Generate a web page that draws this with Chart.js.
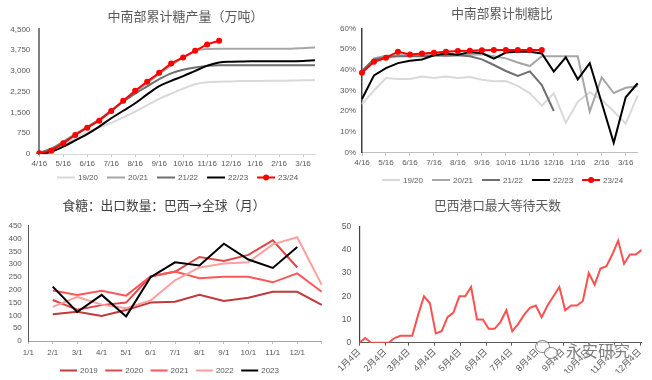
<!DOCTYPE html>
<html><head><meta charset="utf-8">
<script src="https://cdn.jsdelivr.net/npm/chart.js@4.4.0/dist/chart.umd.min.js"></script>
<style>
html,body{margin:0;padding:0;background:#fff;width:652px;height:380px;overflow:hidden;}
.box{position:absolute;width:326px;height:190px;}
canvas{display:block;}
.wm{position:absolute;left:535px;top:339px;height:22px;font-family:"Noto Sans CJK SC",sans-serif;font-size:16px;line-height:22px;color:rgba(80,80,80,0.75);text-shadow:0 0 2px #fff,0 0 2px #fff;white-space:nowrap;}
.wm .ic{position:absolute;left:0;top:1px;width:24px;height:20px;}
.wm .ic i{position:absolute;border:1.5px solid rgba(80,80,80,0.7);border-radius:50%;background:rgba(255,255,255,0.6);}
.wm .tx{position:absolute;left:31px;top:0;}
</style></head><body>
<div class="box" style="left:0;top:0"><canvas id="c1" width="326" height="190"></canvas></div>
<div class="box" style="left:326px;top:0"><canvas id="c2" width="326" height="190"></canvas></div>
<div class="box" style="left:0;top:190px"><canvas id="c3" width="326" height="190"></canvas></div>
<div class="box" style="left:326px;top:190px"><canvas id="c4" width="326" height="190"></canvas></div>
<div class="wm"><div class="ic"><i style="left:0;top:0;width:13px;height:11px"></i><i style="left:9px;top:7px;width:12px;height:10px"></i></div><span class="tx">永安研究</span></div>
<script>
// ---------- data ----------
const halfMonths = ['4/16','5/1','5/16','6/1','6/16','7/1','7/16','8/1','8/16','9/1','9/16','10/1','10/16','11/1','11/16','12/1','12/16','1/1','1/16','2/1','2/16','3/1','3/16','4/1'];
const seasons = ['19/20','20/21','21/22','22/23','23/24'];

// 中南部累计糖产量（万吨）
const prod1920 = [0,120,330,560,780,960,1120,1320,1530,1760,1990,2180,2360,2520,2590,2610,2620,2630,2630,2640,2640,2650,2660,2670];
const prod2021 = [40,200,450,720,980,1250,1570,1900,2230,2560,2880,3200,3480,3720,3790,3800,3800,3800,3800,3800,3800,3800,3820,3840];
const prod2122 = [30,180,430,700,960,1230,1560,1890,2180,2440,2700,2910,3040,3120,3180,3200,3200,3200,3200,3200,3200,3200,3200,3200];
const prod2223 = [0,80,265,490,720,990,1290,1560,1830,2150,2450,2640,2810,3000,3185,3305,3330,3340,3345,3350,3350,3350,3360,3380];
const prod2324 = [30,120,385,685,950,1200,1550,1925,2285,2610,2930,3270,3485,3725,3955,4085];

// 中南部累计制糖比（%）
const ratio1920 = [23.5,30,36,35.5,35.5,36.8,36,36.8,36,36.5,35.2,34.5,34.6,32.2,28.6,22.7,28.6,14.5,24.6,29.2,25.4,20,14,27.5];
const ratio2021 = [39,45.5,46.8,47,47,47.2,47.3,46.5,47,47.3,47.5,46.5,45.5,43.5,41.8,46.5,46.5,46.5,46.5,19.8,36.3,28.8,31.3,32];
const ratio2122 = [39.5,45,46,46.5,46.5,46.5,46.8,47,47,46.5,45,42.3,39.4,37,39.2,32.6,20.1];
const ratio2223 = [25.9,37.3,40.8,43.2,44.3,45,47,47.8,47.3,48.5,48.1,45.4,48.3,48.7,48.7,47.9,39.1,46,35.4,43.2,24,4.8,26.7,33.5];
const ratio2324 = [38.6,43.9,45.8,48.7,47.4,47.9,48.2,48.7,49,49.2,49.4,49.5,49.5,49.5,49.5,49.5];

// 食糖：出口数量：巴西→全球（月）
const monthLabels = ['1/1','2/1','3/1','4/1','5/1','6/1','7/1','8/1','9/1','10/1','11/1','12/1',''];
const exportYears = ['2019','2020','2021','2022','2023'];
const exp2019 = [null,104,114,98,121,150,153,180,156,169,192,192,141];
const exp2020 = [null,160,122,140,150,252,270,328,312,336,393,287,null];
const exp2021 = [null,197,180,196,177,252,271,245,251,251,229,264,192];
const exp2022 = [null,133,172,142,128,158,237,287,302,307,377,405,219];
const exp2023 = [null,212,113,180,96,249,307,295,380,318,285,367,null];

// 巴西港口最大等待天数 (weekly, from 1月4日)
const waitDays = [0,2,0,0,0,0,2,3,3,3,12,20,17,4,5,11,13,20,20,24,10,10,6,6,9,14,5,8,12,15,16,11,16,20,24,14,16,16,18,30,25,32,33,38,44,34,38,38,40];
const monthTickDays = [0,31,59,90,120,151,181,212,243,273,304,334];
const monthTickLabels = ['1月4日','2月4日','3月4日','4月4日','5月4日','6月4日','7月4日','8月4日','9月4日','10月4日','11月4日','12月4日'];

// ---------- helpers ----------
Chart.defaults.font.family = '"Liberation Sans","Noto Sans CJK SC",sans-serif';
Chart.defaults.font.size = 8;
Chart.defaults.color = '#595959';

const TITLE_FONT = '"Noto Sans CJK SC",sans-serif';
const decor = {
  id: 'decor',
  afterDraw(chart, args, o) {
    const ctx = chart.ctx;
    ctx.save();
    ctx.font = o.titleSize + 'px ' + TITLE_FONT;
    ctx.fillStyle = o.titleColor;
    ctx.textAlign = 'center';
    ctx.textBaseline = 'middle';
    ctx.fillText(o.title, o.titleX, o.titleY);
    if (o.legend) {
      ctx.font = '8px "Liberation Sans",sans-serif';
      ctx.textAlign = 'left';
      let x = o.legendX;
      const y = o.legendY;
      chart.data.datasets.forEach(ds => {
        ctx.strokeStyle = ds.borderColor;
        ctx.lineWidth = ds.borderWidth;
        ctx.beginPath(); ctx.moveTo(x, y); ctx.lineTo(x + o.sample, y); ctx.stroke();
        if (ds.pointRadius > 0) {
          ctx.fillStyle = ds.borderColor;
          ctx.beginPath(); ctx.arc(x + o.sample / 2, y, ds.pointRadius, 0, Math.PI * 2); ctx.fill();
        }
        ctx.fillStyle = '#595959';
        ctx.fillText(ds.label, x + o.sample + o.gap, y + 0.5);
        x += o.sample + o.gap + ctx.measureText(ds.label).width + o.itemGap;
      });
    }
    ctx.restore();
  }
};
const fixW = w => s => { s.width = w; };
const fixH = h => s => { s.height = h; };
function line(label, data, color, extra) {
  return Object.assign({label, data, borderColor: color, backgroundColor: color, borderWidth: 2,
    pointRadius: 0, fill: false, spanGaps: false}, extra || {});
}
const tickColorEven = c => (c.index % 2 === 0 ? '#bfbfbf' : 'rgba(0,0,0,0)');
const baseOpts = {responsive: false, animation: false, events: [],
  plugins: {legend: {display: false}, tooltip: {enabled: false}}};

// ---------- chart 1 ----------
const smooth = {cubicInterpolationMode: 'monotone'};
new Chart(document.getElementById('c1'), {
  type: 'line',
  data: {labels: halfMonths, datasets: [
    line(seasons[0], prod1920, '#d9d9d9', Object.assign({order: 5}, smooth)),
    line(seasons[1], prod2021, '#a6a6a6', Object.assign({order: 4}, smooth)),
    line(seasons[2], prod2122, '#6f6f6f', Object.assign({order: 3}, smooth)),
    line(seasons[3], prod2223, '#000000', Object.assign({order: 2}, smooth)),
    line(seasons[4], prod2324, '#ff0000', {order: 1, pointRadius: 3, pointBorderWidth: 0, pointBackgroundColor: '#ff0000'})
  ]},
  options: Object.assign({}, baseOpts, {
    layout: {padding: {left: 0, right: 11, top: 29.3, bottom: 16}},
    scales: {
      x: {grid: {display: true, drawOnChartArea: false, drawTicks: true, tickLength: 3, color: tickColorEven},
          border: {color: '#d9d9d9', width: 1},
          ticks: {autoSkip: false, maxRotation: 0, minRotation: 0, padding: 2.2,
                  callback: (v, i) => (i % 2 === 0 ? halfMonths[i] : '')},
          afterFit: fixH(20)},
      y: {min: 0, max: 4500, grid: {display: false, drawTicks: false},
          border: {color: '#7f7f7f', width: 2},
          ticks: {stepSize: 750, padding: 9, callback: v => v.toLocaleString('en-US')},
          afterFit: fixW(39.3)}
    },
    plugins: Object.assign({}, baseOpts.plugins, {decor: {title: '中南部累计糖产量（万吨）', titleSize: 13, titleColor: '#595959',
      titleX: 185.5, titleY: 16, legend: true, legendX: 57, legendY: 177.5, sample: 18, gap: 3, itemGap: 9}})
  }),
  plugins: [decor]
});

// ---------- chart 2 ----------
new Chart(document.getElementById('c2'), {
  type: 'line',
  data: {labels: halfMonths, datasets: [
    line(seasons[0], ratio1920, '#d9d9d9', {order: 5}),
    line(seasons[1], ratio2021, '#a6a6a6', {order: 4}),
    line(seasons[2], ratio2122, '#6f6f6f', {order: 3}),
    line(seasons[3], ratio2223, '#000000', {order: 2}),
    line(seasons[4], ratio2324, '#ff0000', {order: 1, pointRadius: 3, pointBorderWidth: 0, pointBackgroundColor: '#ff0000'})
  ]},
  options: Object.assign({}, baseOpts, {
    layout: {padding: {left: 0, right: 14.3, top: 28.3, bottom: 17.3}},
    scales: {
      x: {grid: {display: true, drawOnChartArea: false, drawTicks: true, tickLength: 3, color: tickColorEven},
          border: {color: '#bfbfbf', width: 1},
          ticks: {autoSkip: false, maxRotation: 0, minRotation: 0, padding: 2.5,
                  callback: (v, i) => (i % 2 === 0 ? halfMonths[i] : '')},
          afterFit: fixH(20)},
      y: {min: 0, max: 60, grid: {display: false, drawTicks: false},
          border: {color: '#404040', width: 1.5},
          ticks: {stepSize: 10, padding: 6, callback: v => v + '%'},
          afterFit: fixW(36)}
    },
    plugins: Object.assign({}, baseOpts.plugins, {decor: {title: '中南部累计制糖比', titleSize: 12.7, titleColor: '#595959',
      titleX: 176, titleY: 13.5, legend: true, legendX: 56, legendY: 180, sample: 18, gap: 3, itemGap: 9}})
  }),
  plugins: [decor]
});

// ---------- chart 3 ----------
new Chart(document.getElementById('c3'), {
  type: 'line',
  data: {labels: monthLabels, datasets: [
    line(exportYears[0], exp2019, '#c0393b', {order: 5}),
    line(exportYears[1], exp2020, '#e0474a', {order: 4}),
    line(exportYears[2], exp2021, '#ff5757', {order: 3}),
    line(exportYears[3], exp2022, '#ff9f9f', {order: 2}),
    line(exportYears[4], exp2023, '#000000', {order: 1})
  ]},
  options: Object.assign({}, baseOpts, {
    layout: {padding: {left: 0, right: 4.3, top: 35.7, bottom: 19}},
    scales: {
      x: {grid: {display: true, drawOnChartArea: false, drawTicks: true, tickLength: 3, color: '#bfbfbf'},
          border: {color: '#a6a6a6', width: 1},
          ticks: {autoSkip: false, maxRotation: 0, minRotation: 0, padding: 4},
          afterFit: fixH(20)},
      y: {min: 0, max: 450, grid: {display: false, drawTicks: false},
          border: {color: '#595959', width: 1},
          ticks: {stepSize: 50, padding: 6.5},
          afterFit: fixW(28.3)}
    },
    plugins: Object.assign({}, baseOpts.plugins, {decor: {title: '食糖：出口数量：巴西→全球（月）', titleSize: 12.7, titleColor: '#404040',
      titleX: 164, titleY: 15, legend: true, legendX: 60, legendY: 180.5, sample: 17, gap: 3, itemGap: 7.5}})
  }),
  plugins: [decor]
});

// ---------- chart 4 ----------
new Chart(document.getElementById('c4'), {
  type: 'line',
  data: {datasets: [
    line('巴西港口最大等待天数', waitDays.map((v, i) => ({x: i * 7, y: v})), '#ff5050', {borderWidth: 2})
  ]},
  options: Object.assign({}, baseOpts, {
    layout: {padding: {left: 0, right: 10.3, top: 36.7, bottom: 7.3}},
    scales: {
      x: {type: 'linear', min: 0, max: 336,
          afterBuildTicks: s => { s.ticks = monthTickDays.map(v => ({value: v})); },
          grid: {display: true, drawOnChartArea: false, drawTicks: true, tickLength: 3, color: '#595959'},
          border: {color: '#595959', width: 1},
          ticks: {autoSkip: false, maxRotation: 45, minRotation: 45, padding: 1, font: {size: 9},
                  callback: (v, i) => monthTickLabels[i]},
          afterFit: fixH(30)},
      y: {min: 0, max: 50, grid: {display: false, drawTicks: false},
          border: {color: '#404040', width: 1.2},
          ticks: {stepSize: 5, padding: 8, font: {size: 8.5}},
          afterFit: fixW(33.3)}
    },
    plugins: Object.assign({}, baseOpts.plugins, {decor: {title: '巴西港口最大等待天数', titleSize: 12.7, titleColor: '#595959',
      titleX: 171.5, titleY: 15.3, legend: false}})
  }),
  plugins: [decor]
});
</script>
</body></html>
